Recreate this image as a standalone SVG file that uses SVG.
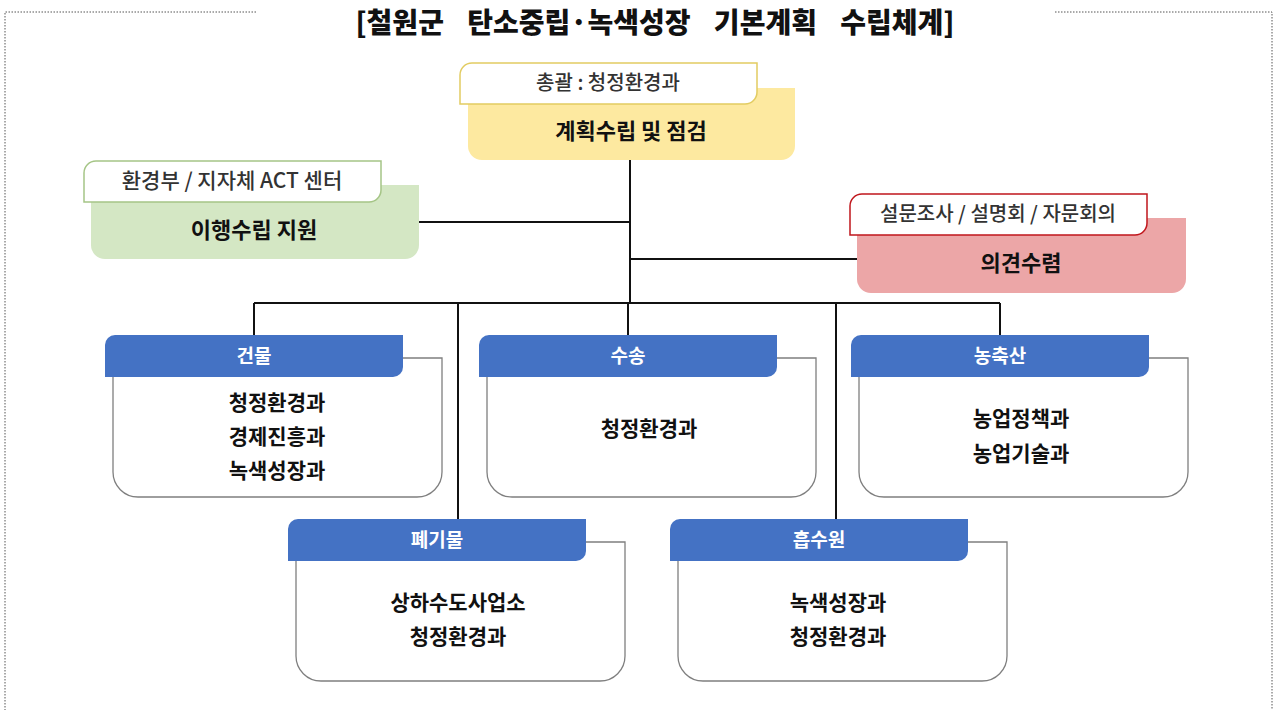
<svg xmlns="http://www.w3.org/2000/svg" xmlns:xlink="http://www.w3.org/1999/xlink" width="1275" height="710" viewBox="0 0 1275 710">
<style>
text{font-family:"Noto Sans CJK KR","Noto Sans",sans-serif;font-weight:bold;text-anchor:middle;fill:#111}
.title{font-size:28px;font-weight:900;word-spacing:17px}
.lbl{font-size:20px;fill:#333;font-weight:500}
.main{font-size:22px}
.hdt{font-size:19px;fill:#fff}
.bt{font-size:21px}
.hdr{fill:#4472C4}
.bdy{fill:#fff;stroke:#7f7f7f;stroke-width:1.3}
.conn{stroke:#111;stroke-width:2;fill:none}
.frame{stroke:#555;stroke-width:1;stroke-dasharray:1.5 1.5;fill:none}
</style>
<defs>
<path id="hdr" d="M10,0 H298 V32 A10,10 0 0 1 288,42 H0 V10 A10,10 0 0 1 10,0 Z"/>
<path id="bdy" d="M8,23 H337 V137 A25,25 0 0 1 312,162 H33 A25,25 0 0 1 8,137 Z"/>
</defs>
<rect width="1275" height="710" fill="#fff"/>
<path class="frame" d="M256,12 H5 V710 M1055,12 H1272 V710"/>
<text class="title" x="655" y="33">[철원군 탄소중립·녹색성장 기본계획 수립체계]</text>

<g id="connectors">
<path class="conn" d="M630,160 V303"/>
<path class="conn" d="M419,222 H630"/>
<path class="conn" d="M631,259 H857"/>
<path class="conn" d="M254,303 H1000"/>
<path class="conn" d="M254,303 V335"/>
<path class="conn" d="M458,303 V519"/>
<path class="conn" d="M628,303 V335"/>
<path class="conn" d="M836,303 V519"/>
<path class="conn" d="M1000,303 V335"/>
</g>

<g id="plan">
<path d="M468,88 H795 V146 A14,14 0 0 1 781,160 H482 A14,14 0 0 1 468,146 Z" fill="#FDE9A0"/>
<path d="M472,63 H757 V92 A12,12 0 0 1 745,104 H460 V75 A12,12 0 0 1 472,63 Z" fill="#fff" stroke="#E2CC62" stroke-width="1.5"/>
<text class="lbl" x="608" y="90">총괄 : 청정환경과</text>
<text class="main" x="631" y="139">계획수립 및 점검</text>
</g>

<g id="support">
<path d="M91,185 H419 V245 A14,14 0 0 1 405,259 H105 A14,14 0 0 1 91,245 Z" fill="#D4E7C4"/>
<path d="M96,161 H381 V190 A12,12 0 0 1 369,202 H84 V173 A12,12 0 0 1 96,161 Z" fill="#fff" stroke="#A5C586" stroke-width="1.5"/>
<text class="lbl" x="232" y="188" style="font-size:21px">환경부 / 지자체 ACT 센터</text>
<text class="main" x="254" y="238">이행수립 지원</text>
</g>

<g id="opinion">
<path d="M857,218 H1186 V279 A14,14 0 0 1 1172,293 H871 A14,14 0 0 1 857,279 Z" fill="#ECA6A7"/>
<path d="M862,194 H1147 V223 A12,12 0 0 1 1135,235 H850 V206 A12,12 0 0 1 862,194 Z" fill="#fff" stroke="#C0161C" stroke-width="1.5"/>
<text class="lbl" x="998" y="221">설문조사 / 설명회 / 자문회의</text>
<text class="main" x="1021" y="271">의견수렴</text>
</g>

<g id="building" transform="translate(105,335)">
<use href="#bdy" class="bdy"/>
<use href="#hdr" class="hdr"/>
<text class="hdt" x="149" y="28">건물</text>
<text class="bt" x="172" y="75">청정환경과</text>
<text class="bt" x="172" y="109">경제진흥과</text>
<text class="bt" x="172" y="143">녹색성장과</text>
</g>

<g id="transport" transform="translate(479,335)">
<use href="#bdy" class="bdy"/>
<use href="#hdr" class="hdr"/>
<text class="hdt" x="149" y="28">수송</text>
<text class="bt" x="170" y="101">청정환경과</text>
</g>

<g id="agriculture" transform="translate(851,335)">
<use href="#bdy" class="bdy"/>
<use href="#hdr" class="hdr"/>
<text class="hdt" x="149" y="28">농축산</text>
<text class="bt" x="170" y="91">농업정책과</text>
<text class="bt" x="170" y="126">농업기술과</text>
</g>

<g id="waste" transform="translate(288,519)">
<use href="#bdy" class="bdy"/>
<use href="#hdr" class="hdr"/>
<text class="hdt" x="149" y="28">폐기물</text>
<text class="bt" x="170" y="91">상하수도사업소</text>
<text class="bt" x="170" y="125">청정환경과</text>
</g>

<g id="sink" transform="translate(670,519)">
<use href="#bdy" class="bdy"/>
<use href="#hdr" class="hdr"/>
<text class="hdt" x="149" y="28">흡수원</text>
<text class="bt" x="168" y="91">녹색성장과</text>
<text class="bt" x="168" y="125">청정환경과</text>
</g>
</svg>
